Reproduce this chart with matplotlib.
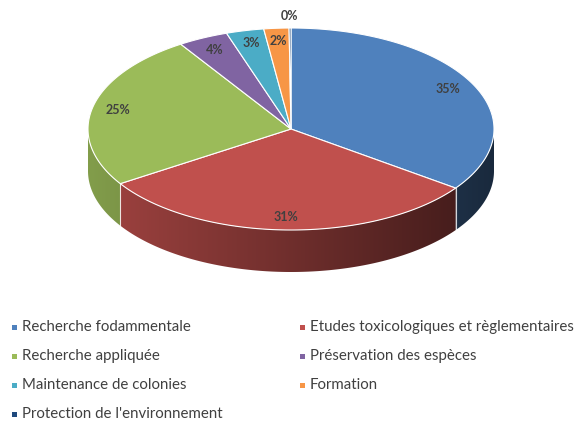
import numpy as np
import matplotlib.pyplot as plt
from matplotlib.patches import Polygon, Rectangle

plt.rcParams['font.family'] = ['Lato', 'DejaVu Sans']

categories = ['Recherche fodammentale', 'Etudes toxicologiques et règlementaires',
              'Recherche appliquée', 'Préservation des espèces',
              'Maintenance de colonies', 'Formation', "Protection de l'environnement"]
values = [35, 31, 25, 4, 3, 2, 0.15]
colors = ['#4f81bd', '#c0504d', '#9bbb59', '#8064a2', '#4bacc6', '#f79646', '#1f497d']

# pie geometry in pixel coords
cx, cy, rx, ry, depth = 291, 129, 203, 101, 42
text_col = '#404040'


def pt(t):
    # t in degrees, clockwise from 12 o'clock
    r = np.radians(t)
    return cx + rx * np.sin(r), cy - ry * np.cos(r)


def shade(x):
    f = 0.8 - 0.43 * (x - 120) / 335
    return np.clip(f, 0.3, 0.85)


def to_rgb(c):
    return np.array([int(c[i:i + 2], 16) for i in (1, 3, 5)]) / 255


fig = plt.figure(figsize=(5.81, 4.21), dpi=100)
ax = fig.add_axes([0, 0, 1, 1])
ax.set_xlim(0, 581)
ax.set_ylim(421, 0)
ax.axis('off')

total = sum(values)
bounds = np.concatenate([[0], np.cumsum(values) / total * 360])

# side wall (front half only), shaded with a horizontal gradient
for i, c in enumerate(colors):
    a, b = max(bounds[i], 90), min(bounds[i + 1], 270)
    if a >= b:
        continue
    ts = np.linspace(a, b, 200)
    top = [pt(t) for t in ts]
    bot = [(x, y + depth) for x, y in top[::-1]]
    poly = Polygon(top + bot, closed=True, fc='none', ec='none')
    ax.add_patch(poly)
    xs = [p[0] for p in top]
    x0, x1 = min(xs) - 1, max(xs) + 1
    gx = np.linspace(x0, x1, 300)
    img = shade(gx)[None, :, None] * to_rgb(c)[None, None, :]
    im = ax.imshow(img, extent=(x0, x1, cy + ry + depth + 2, cy - 5),
                   aspect='auto', interpolation='bilinear')
    im.set_clip_path(poly)
for t in bounds[1:-1]:
    if 90 < t < 270:
        x, y = pt(t)
        ax.plot([x, x], [y, y + depth], color='white', lw=0.8, alpha=0.8)

ax.set_xlim(0, 581)
ax.set_ylim(421, 0)

# top face
for i, c in enumerate(colors):
    ts = np.linspace(bounds[i], bounds[i + 1], max(int(bounds[i + 1] - bounds[i]) * 2, 2))
    pts = [(cx, cy)] + [pt(t) for t in ts]
    ax.add_patch(Polygon(pts, closed=True, fc=c, ec='white', lw=0.8))

# percentage labels
for i in range(len(values)):
    pct = values[i] / total * 100
    mid = np.radians((bounds[i] + bounds[i + 1]) / 2)
    f = 1.12 if round(pct) == 0 else 0.87
    x, y = cx + rx * f * np.sin(mid), cy - ry * f * np.cos(mid)
    ax.text(x, y, '%d%%' % round(pct), ha='center', va='center', fontsize=9,
            color=text_col, fontweight='bold')

# legend
for i, name in enumerate(categories):
    col, row = i % 2, i // 2
    x = 22 + col * 288
    y = 327 + row * 29
    ax.add_patch(Rectangle((x - 10, y - 2.5), 5, 5, fc=colors[i], ec='none'))
    ax.text(x, y, name, ha='left', va='center', fontsize=10.8, color=text_col)

fig.savefig('out.png', dpi=100)
